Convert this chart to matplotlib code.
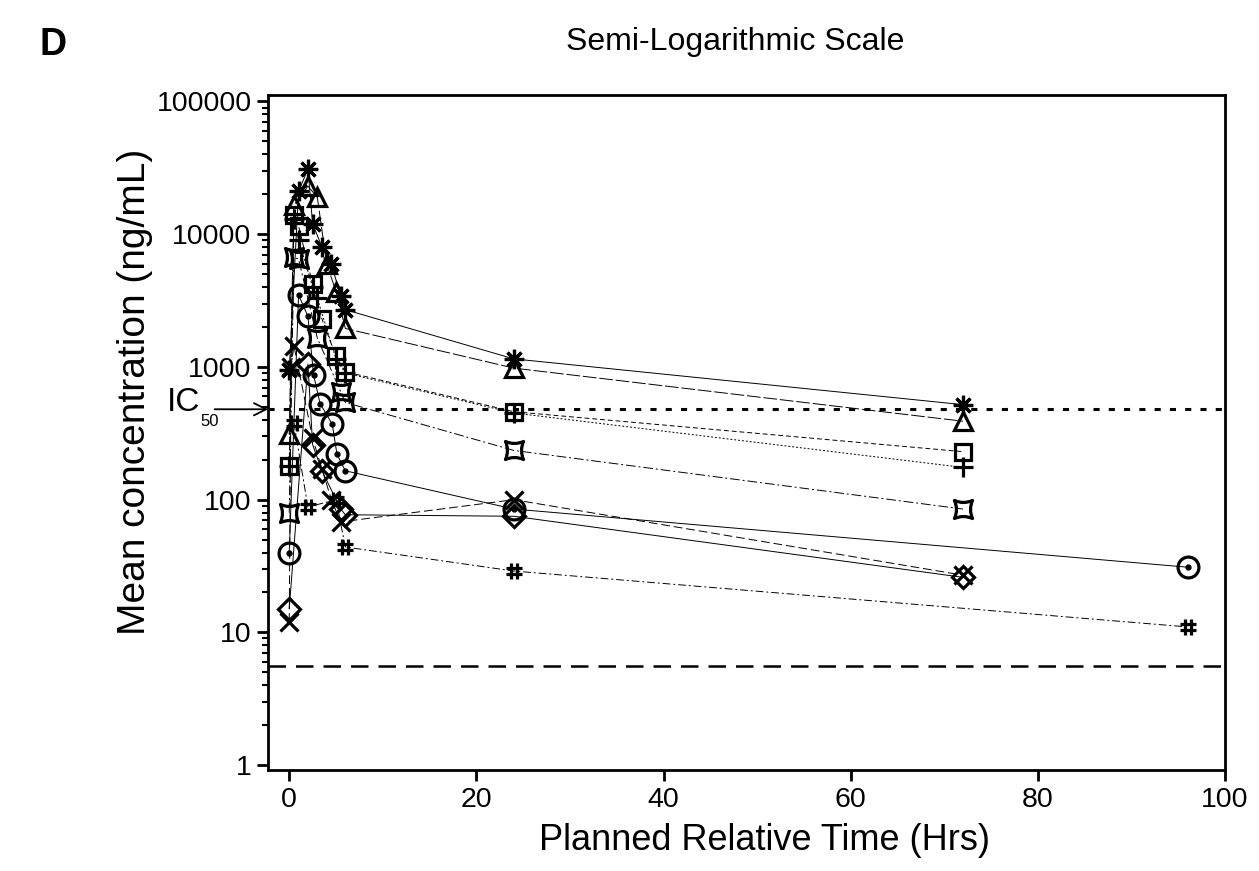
import matplotlib
matplotlib.use("Agg")
import matplotlib.pyplot as plt
import numpy as np
from matplotlib.path import Path
from matplotlib.ticker import FixedLocator, LogLocator, NullFormatter
from matplotlib import font_manager

plt.rcParams['font.family'] = ['Liberation Sans', 'DejaVu Sans']

# ---------------- data ----------------
star_t = [0, 1, 2, 2.5, 3.5, 4.5, 5.5, 6, 24, 72]
star_v = [950, 21000, 31000, 12000, 8000, 6000, 3400, 2700, 1150, 520]

tri_t = [0, 0.5, 2, 3, 4, 5, 6, 24, 72]
tri_v = [310, 16500, 23000, 19000, 6000, 3700, 1950, 980, 390]

sq_t = [0, 0.5, 1, 2.5, 3.5, 5, 6, 24, 72]
sq_v = [180, 14000, 11500, 4200, 2300, 1200, 920, 460, 230]

plus_t = [0, 0.5, 1, 2.5, 3, 5, 6, 24, 72]
plus_v = [180, 13000, 9000, 4000, 3300, 1150, 900, 450, 175]

csq_t = [0, 0.5, 1, 3, 5.5, 6, 24, 72]
csq_v = [80, 6700, 6500, 1650, 650, 540, 235, 85]

circ_t = [0, 1, 2, 2.6, 3.3, 4.6, 5.1, 6, 24, 96]
circ_v = [40, 3500, 2400, 870, 530, 370, 220, 165, 85, 31]

x_t = [0, 0.2, 0.5, 2.5, 3.5, 4.5, 5.5, 24, 72]
x_v = [12, 1000, 1450, 290, 170, 100, 68, 100, 27]

dia_t = [0, 2, 2.5, 3.5, 5.5, 6, 24, 72]
dia_v = [15, 1050, 260, 165, 85, 77, 75, 26]

hash_t = [0.5, 2, 5, 6, 24, 96]
hash_v = [380, 88, 100, 44, 29, 11]

IC50 = 480
LLOQ = 5.6

x_ticks = [0, 20, 40, 60, 80, 100]
y_ticks = [1, 10, 100, 1000, 10000, 100000]
y_ticklabels = ['1', '10', '100', '1000', '10000', '100000']

# ---------------- custom markers ----------------
def concave_square():
    k = 0.55
    verts = [(-1, -1), (0, -k), (1, -1), (k, 0), (1, 1), (0, k), (-1, 1), (-k, 0), (-1, -1), (-1, -1)]
    codes = [Path.MOVETO, Path.CURVE3, Path.CURVE3, Path.CURVE3, Path.CURVE3,
             Path.CURVE3, Path.CURVE3, Path.CURVE3, Path.CURVE3, Path.CLOSEPOLY]
    return Path(verts, codes)

def hash_marker():
    a, b = 0.4, 1.0
    verts = [(-a, -b), (-a, b), (a, -b), (a, b), (-b, -a), (b, -a), (-b, a), (b, a)]
    codes = [Path.MOVETO, Path.LINETO] * 4
    return Path(verts, codes)

# narrow font for the IC50 label if available
names = {f.name for f in font_manager.fontManager.ttflist}
ic_family = ['Liberation Sans Narrow'] if 'Liberation Sans Narrow' in names else ['Liberation Sans']

# ---------------- figure ----------------
fig = plt.figure(figsize=(12.59, 8.71), dpi=100)
ax = fig.add_axes([0.213, 0.116, 0.760, 0.775])

ms = 13
mew = 2.3
lw = 0.7
series = [
    (star_t, star_v, (8, 2, 0), (0, ()), ms + 1),
    (tri_t, tri_v, '^', (0, (14, 3)), ms),
    (sq_t, sq_v, 's', (0, (5, 3)), ms - 1),
    (plus_t, plus_v, '+', (0, (2, 2)), ms + 1),
    (csq_t, csq_v, concave_square(), (0, (10, 3, 2, 3)), ms),
    (circ_t, circ_v, 'o', (0, ()), ms + 2),
    (x_t, x_v, 'x', (0, (9, 4)), ms),
    (dia_t, dia_v, 'D', (0, ()), ms - 2),
    (hash_t, hash_v, hash_marker(), (0, (8, 3, 2, 3)), ms - 1),
]
for t, v, mk, ls, size in series:
    ax.plot(t, v, color='black', lw=lw, linestyle=ls, marker=mk, markersize=size,
            markerfacecolor='none', markeredgecolor='black', markeredgewidth=mew)
# dot inside circles
ax.plot(circ_t, circ_v, linestyle='none', marker='o', markersize=3.5,
        markerfacecolor='black', markeredgecolor='black')

ax.axhline(IC50, color='black', lw=2.2, linestyle=(0, (2, 3)))
ax.axhline(LLOQ, color='black', lw=1.8, linestyle=(0, (7, 4)))

ax.set_yscale('log')
ax.set_xlim(-2.25, 100)
ax.set_ylim(0.92, 112000)

ax.xaxis.set_major_locator(FixedLocator(x_ticks))
ax.set_xticklabels([str(x) for x in x_ticks])
ax.yaxis.set_major_locator(FixedLocator(y_ticks))
ax.set_yticklabels(y_ticklabels)
ax.yaxis.set_minor_locator(LogLocator(base=10, subs=np.arange(2, 10)))
ax.yaxis.set_minor_formatter(NullFormatter())

ax.tick_params(axis='both', which='major', direction='out', length=8, width=2,
               labelsize=20.5, pad=4)
ax.tick_params(axis='y', which='minor', direction='out', length=4, width=1.5)
for s in ax.spines.values():
    s.set_linewidth(2)

# IC50 annotation
ytr = ax.get_yaxis_transform()
ax.annotate('', xy=(0, IC50), xycoords=ytr, xytext=(-0.056, IC50), textcoords=ytr,
            arrowprops=dict(arrowstyle='->', lw=1.3, color='black', shrinkA=0, shrinkB=0,
                            mutation_scale=22), annotation_clip=False)
ax.annotate('IC', xy=(0, IC50), xycoords=ytr, xytext=(-49, 5), textcoords='offset points',
            ha='right', va='center', fontsize=24, family=ic_family, annotation_clip=False)
ax.annotate('50', xy=(0, IC50), xycoords=ytr, xytext=(-49, -9), textcoords='offset points',
            ha='left', va='center', fontsize=12, family=ic_family, annotation_clip=False)

fig.text(0.584, 0.952, 'Semi-Logarithmic Scale', ha='center', va='center', fontsize=23)
fig.text(0.031, 0.948, 'D', ha='left', va='center', fontsize=27, fontweight='bold')
fig.text(0.107, 0.55, 'Mean concentration (ng/mL)', rotation=90, ha='center', va='center',
         fontsize=28)
fig.text(0.607, 0.035, 'Planned Relative Time (Hrs)', ha='center', va='center', fontsize=26)

fig.savefig('out.png', dpi=100)
